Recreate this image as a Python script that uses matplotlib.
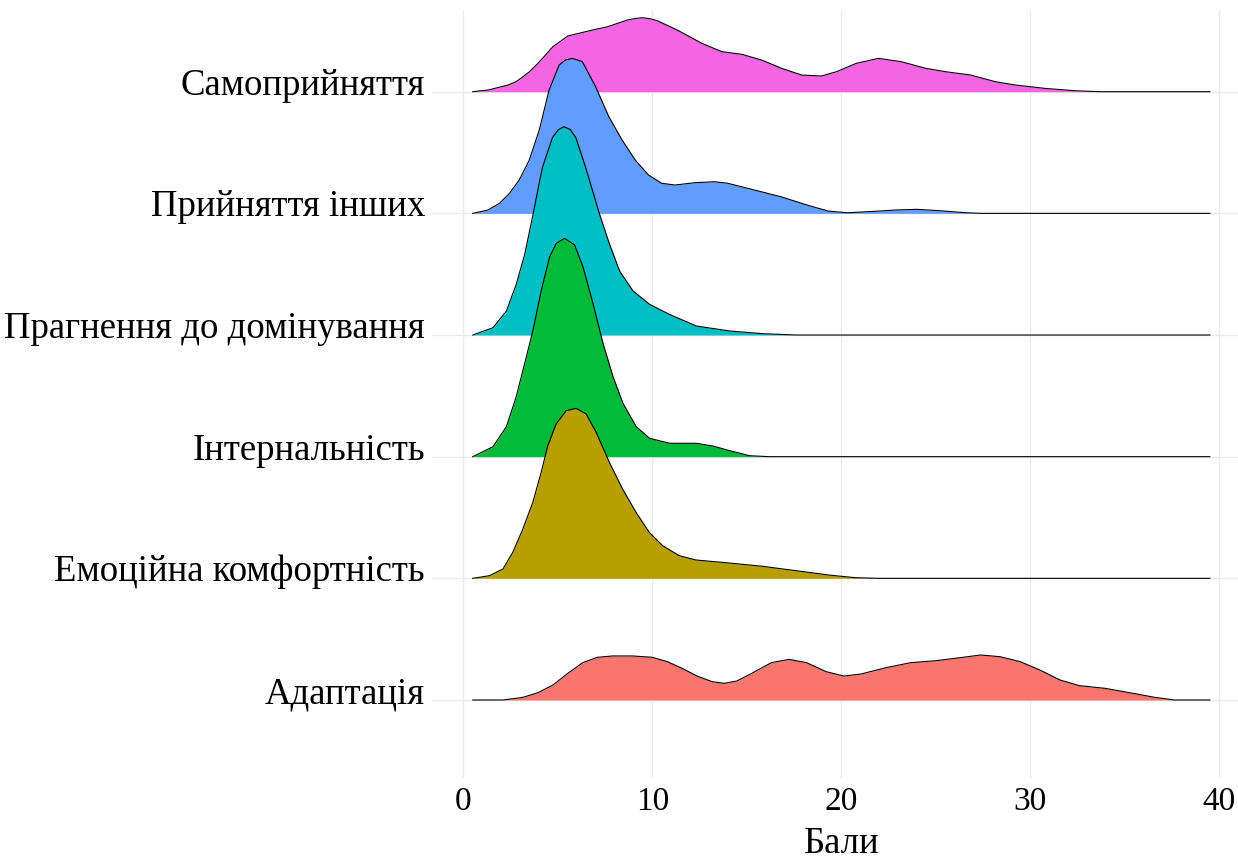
import matplotlib.pyplot as plt
import matplotlib.transforms as mtransforms

# categories, bottom to top
labels = ["Адаптація", "Емоційна комфортність", "Інтернальність",
          "Прагнення до домінування", "Прийняття інших", "Самоприйняття"]
colors = ["#F8766D", "#B79F00", "#00BA38", "#00BFC4", "#619CFF", "#F564E3"]

# ridge heights (in units of ridge spacing)
adapt_x = [0.5, 2.1, 3.16, 3.95, 4.74, 5.53, 6.32, 7.1, 7.9, 8.95, 10.0, 10.8, 11.58, 12.37,
           13.16, 13.8, 14.47, 15.26, 16.3, 17.24, 18.16, 19.2, 20.13, 21.05, 22.37, 23.68,
           25.0, 26.3, 27.37, 28.4, 29.47, 30.5, 31.58, 32.6, 33.95, 35.26, 36.58, 37.63, 39.5]
adapt_h = [0, 0, 0.022, 0.06, 0.123, 0.219, 0.307, 0.351, 0.362, 0.362, 0.351, 0.315, 0.26, 0.197,
           0.151, 0.137, 0.156, 0.219, 0.307, 0.334, 0.307, 0.233, 0.197, 0.214, 0.266, 0.307,
           0.323, 0.348, 0.37, 0.356, 0.315, 0.247, 0.164, 0.118, 0.096, 0.06, 0.022, 0, 0]

emo_x = [0.5, 1.39, 2.1, 2.62, 3.15, 3.68, 4.12, 4.47, 4.91, 5.44, 5.97, 6.5, 7.03, 7.73, 8.43,
         9.14, 9.84, 10.55, 11.43, 12.3, 14.07, 15.83, 17.6, 19.35, 20.76, 22.0, 39.5]
emo_h = [0, 0.022, 0.077, 0.214, 0.405, 0.625, 0.871, 1.09, 1.268, 1.378, 1.397, 1.351, 1.2, 0.953,
         0.734, 0.542, 0.378, 0.268, 0.186, 0.151, 0.126, 0.099, 0.063, 0.027, 0.005, 0, 0]

int_x = [0.5, 1.57, 2.28, 2.8, 3.25, 3.69, 4.13, 4.57, 4.92, 5.36, 5.89, 6.33, 6.86, 7.39, 7.92,
         8.45, 9.15, 9.86, 10.92, 12.33, 13.2, 14.1, 15.15, 16.2, 39.5]
int_h = [0, 0.082, 0.247, 0.493, 0.767, 1.041, 1.37, 1.644, 1.753, 1.795, 1.74, 1.562, 1.26, 0.932,
         0.658, 0.438, 0.247, 0.151, 0.11, 0.11, 0.088, 0.049, 0.008, 0, 0]

dom_x = [0.5, 1.57, 2.28, 2.8, 3.25, 3.69, 4.04, 4.19, 4.72, 5.05, 5.33, 5.65, 5.95, 6.47, 7.21,
         7.74, 8.27, 8.98, 9.86, 10.9, 12.33, 14.1, 15.85, 17.6, 39.5]
dom_h = [0, 0.06, 0.197, 0.416, 0.663, 0.992, 1.266, 1.378, 1.624, 1.69, 1.712, 1.69, 1.624, 1.378,
         0.992, 0.745, 0.526, 0.362, 0.252, 0.17, 0.074, 0.033, 0.011, 0, 0]

acc_x = [0.5, 1.3, 1.91, 2.44, 2.96, 3.49, 4.02, 4.54, 5.07, 5.4, 5.77, 6.3, 7.0, 7.7, 8.4, 9.1,
         9.8, 10.5, 11.2, 12.26, 13.3, 14.0, 15.4, 16.8, 18.2, 19.3, 20.3, 21.7, 22.8, 24.0, 25.2,
         26.6, 27.4, 39.5]
acc_h = [0, 0.027, 0.082, 0.164, 0.274, 0.438, 0.685, 1.014, 1.219, 1.26, 1.274, 1.247, 1.041,
         0.795, 0.603, 0.438, 0.315, 0.247, 0.233, 0.252, 0.26, 0.247, 0.192, 0.137, 0.068, 0.019,
         0.005, 0.016, 0.027, 0.033, 0.022, 0.005, 0, 0]

self_x = [0.5, 1.32, 2.37, 2.79, 3.16, 3.5, 3.95, 4.19, 4.74, 5.53, 6.84, 7.63, 8.68, 9.1, 9.47,
          9.85, 10.26, 11.32, 12.63, 13.68, 14.74, 15.79, 16.84, 17.9, 18.95, 19.74, 20.79, 21.97,
          23.16, 24.47, 25.53, 26.84, 28.16, 29.21, 30.79, 32.37, 33.7, 39.5]
self_h = [0, 0.014, 0.055, 0.082, 0.123, 0.164, 0.233, 0.274, 0.37, 0.458, 0.507, 0.534, 0.589,
          0.602, 0.608, 0.601, 0.584, 0.507, 0.397, 0.329, 0.307, 0.26, 0.192, 0.137, 0.129,
          0.164, 0.233, 0.274, 0.247, 0.192, 0.164, 0.137, 0.082, 0.055, 0.027, 0.008, 0, 0]

xs = [adapt_x, emo_x, int_x, dom_x, acc_x, self_x]
hs = [adapt_h, emo_h, int_h, dom_h, acc_h, self_h]
x_ticks = [0, 10, 20, 30, 40]

plt.rcParams["font.family"] = ["Liberation Serif", "DejaVu Serif"]

W, H = 1238, 863
fig = plt.figure(figsize=(W / 100, H / 100), dpi=100)
left, right, bottom, top = 432, 1238, 778, 10
ax = fig.add_axes([left / W, (H - bottom) / H, (right - left) / W, (bottom - top) / H])

grid_col = "#EBEBEB"
for xt in x_ticks:
    ax.axvline(xt, color=grid_col, lw=1.0, zorder=0)
for i in range(len(labels)):
    ax.axhline(i + 1, color=grid_col, lw=1.0, zorder=0)

# draw top ridge first so lower ridges sit in front
for i in reversed(range(len(labels))):
    base = i + 1
    z = 10 + (len(labels) - i) * 2
    top_y = [base + h for h in hs[i]]
    ax.fill_between(xs[i], base, top_y, color=colors[i], lw=0, zorder=z)
    ax.plot(xs[i], top_y, color="black", lw=0.8, zorder=z + 1, solid_joinstyle="round")

ax.set_xlim((left - 463.3) / 18.9, (right - 463.3) / 18.9)
ax.set_ylim(1 - (bottom - 700) / 121.66, 6 + (91.7 - top) / 121.66)

ax.set_xticks(x_ticks)
ax.set_xticklabels([str(v) for v in x_ticks], fontsize=24)
ax.set_yticks(range(1, len(labels) + 1))
ax.set_yticklabels(labels, fontsize=26.5)
ax.tick_params(length=0, axis="x", pad=6)
ax.tick_params(length=0, axis="y", pad=5)
offset = mtransforms.ScaledTranslation(0, -0.03, fig.dpi_scale_trans)
for lab in ax.get_yticklabels():
    lab.set_va("baseline")
    lab.set_transform(lab.get_transform() + offset)

ax.set_xlabel("Бали", fontsize=26.5)
ax.xaxis.set_label_coords((842 - left) / (right - left), -(826 - bottom) / (bottom - top))
for s in ax.spines.values():
    s.set_visible(False)

fig.savefig("out.png", dpi=100)
